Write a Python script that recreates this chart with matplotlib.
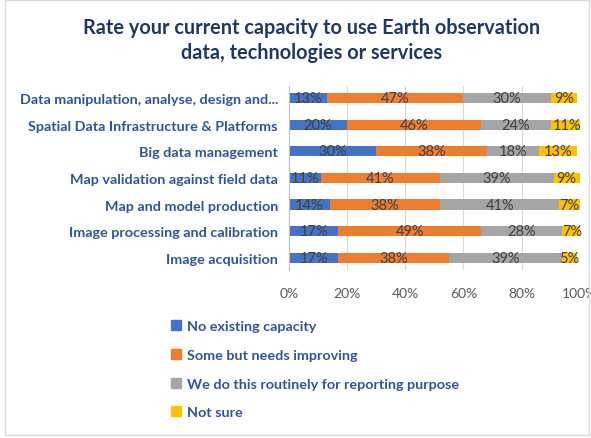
import numpy as np
import matplotlib.pyplot as plt
from matplotlib.patches import Patch, Rectangle

plt.rcParams['font.family'] = ['Lato', 'DejaVu Sans']

categories = ['Image acquisition',
              'Image processing and calibration',
              'Map and model production',
              'Map validation against field data',
              'Big data management',
              'Spatial Data Infrastructure & Platforms',
              'Data manipulation, analyse, design and...']
no_capacity = [17, 17, 14, 11, 30, 20, 13]
needs_improving = [38, 49, 38, 41, 38, 46, 47]
routinely = [39, 28, 41, 39, 18, 24, 30]
not_sure = [5, 7, 7, 9, 13, 11, 9]

series = [('No existing capacity', no_capacity, '#4472C4'),
          ('Some but needs improving', needs_improving, '#ED7D31'),
          ('We do this routinely for reporting purpose', routinely, '#A5A5A5'),
          ('Not sure', not_sure, '#FFC000')]
ticks = [0, 20, 40, 60, 80, 100]
tick_labels = ['0%', '20%', '40%', '60%', '80%', '100%']

fig = plt.figure(figsize=(5.91, 4.39), dpi=100)
ax = fig.add_axes([0.489, 0.383, 0.492, 0.419])

y = np.arange(len(categories))
left = np.zeros(len(categories))
for name, vals, col in series:
    vals = np.array(vals, dtype=float)
    ax.barh(y, vals, left=left, height=0.38, color=col, zorder=2)
    for yi, l, v in zip(y, left, vals):
        ax.text(l + v / 2, yi, '%d%%' % v, ha='center', va='center',
                fontsize=10.5, color='#404040', zorder=3)
    left += vals

ax.set_xlim(0, 100)
ax.set_ylim(-0.45, 6.45)
ax.set_xticks(ticks)
ax.set_xticklabels(tick_labels, fontsize=10, color='#595959')
ax.set_yticks(y)
ax.set_yticklabels(categories, fontsize=10.4, fontweight='bold', color='#2F5597')
ax.tick_params(length=0, pad=8)
ax.tick_params(axis='x', pad=12)
ax.grid(axis='x', color='#D9D9D9', linewidth=0.8, zorder=0)
for s in ['top', 'right', 'bottom']:
    ax.spines[s].set_visible(False)
ax.spines['left'].set_color('#BFBFBF')

fig.text(0.527, 0.908, 'Rate your current capacity to use Earth observation\ndata, technologies or services',
         ha='center', va='center', fontsize=14.3, fontweight='bold',
         color='#1F3864', linespacing=1.35)

handles = [Patch(color=c) for _, _, c in series]
labels = [n for n, _, _ in series]
leg = fig.legend(handles, labels, loc='upper left', bbox_to_anchor=(0.268, 0.298),
                 frameon=False, handlelength=0.7, handleheight=0.7,
                 handletextpad=0.4, labelspacing=1.15, fontsize=10.4)
for t in leg.get_texts():
    t.set_color('#2F5597')
    t.set_fontweight('bold')

# thin frame around the chart area
fig.patches.append(Rectangle((5 / 591, 3 / 439), 584 / 591, 435 / 439,
                             transform=fig.transFigure, fill=False,
                             edgecolor='#D9D9D9', linewidth=1))

fig.savefig('out.png', dpi=100)
